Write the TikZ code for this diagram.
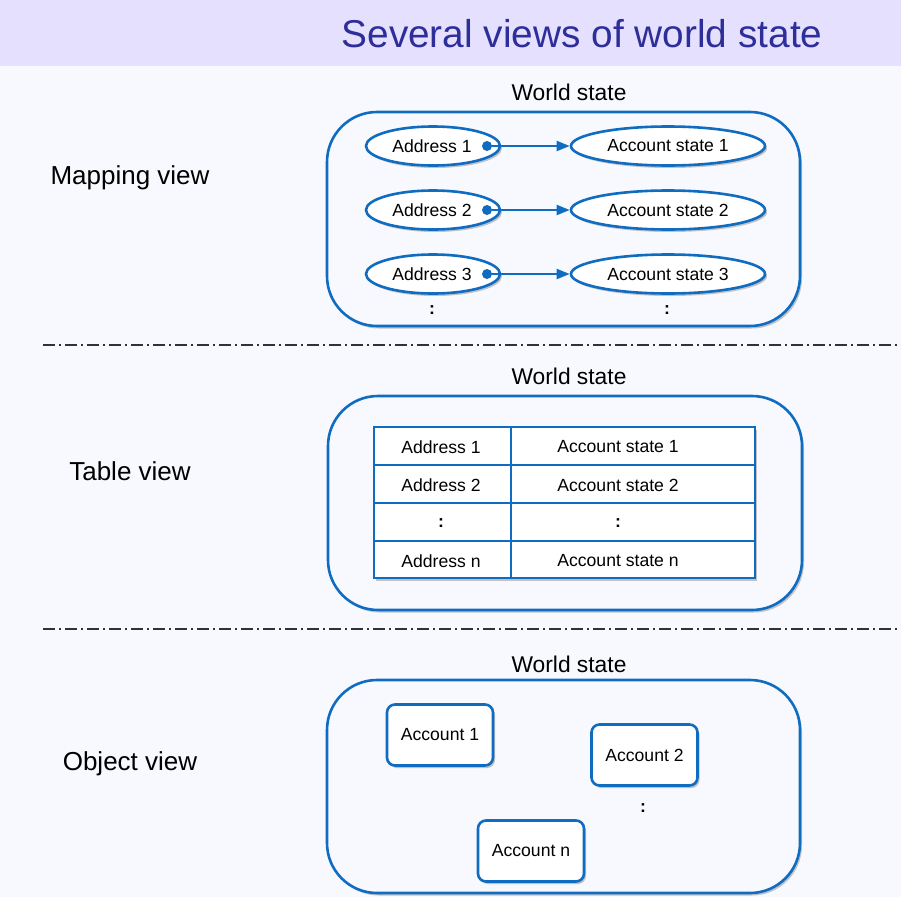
\documentclass[tikz,border=0pt]{standalone}
\usepackage{fontspec}
\setmainfont{Liberation Sans}
\usetikzlibrary{shapes.geometric,shadows,arrows.meta}
\definecolor{bg}{RGB}{248,249,254}
\definecolor{band}{RGB}{228,224,254}
\definecolor{titlec}{RGB}{46,46,154}
\definecolor{lineblue}{RGB}{16,108,192}
\definecolor{sepc}{RGB}{50,50,50}
\tikzset{
  sh/.style={drop shadow={opacity=0.45,shadow xshift=2pt,shadow yshift=-2.5pt,fill=gray}},
  outer/.style={draw=lineblue,line width=2.6pt,rounded corners=50pt,fill=bg},
  addr/.style={ellipse,draw=lineblue,line width=2.6pt,fill=white,minimum width=134pt,minimum height=39pt,inner sep=0pt,font=\fontsize{17.6}{19}\selectfont,sh},
  acct/.style={ellipse,draw=lineblue,line width=2.6pt,fill=white,minimum width=194pt,minimum height=39pt,inner sep=0pt,font=\fontsize{17.6}{19}\selectfont,sh},
  obj/.style={rectangle,rounded corners=8pt,draw=lineblue,line width=2.6pt,fill=white,minimum width=106pt,minimum height=61pt,inner sep=0pt,font=\fontsize{17.6}{19}\selectfont,sh},
  cell/.style={font=\fontsize{17.6}{19}\selectfont,inner sep=0pt},
  lbl/.style={font=\fontsize{22.8}{25}\selectfont,inner sep=0pt},
  view/.style={font=\fontsize{26}{28}\selectfont,inner sep=0pt},
  sep/.style={draw=sepc,line width=1.4pt,dash pattern=on 12pt off 4pt on 2pt off 4pt},
  conn/.style={draw=lineblue,line width=2pt,-{Triangle[length=13pt,width=10pt]}},
  dotc/.style={circle,fill=lineblue,inner sep=0pt,minimum size=10pt},
  tline/.style={draw=lineblue,line width=2.6pt}
}
\begin{document}
\begin{tikzpicture}[x=1pt,y=-1pt]
\useasboundingbox (0,0) rectangle (901,897);
\fill[bg] (0,0) rectangle (901,897);
\fill[band] (0,0) rectangle (901,66);
\node[font=\fontsize{38.8}{42}\selectfont,text=titlec,inner sep=0pt] (title) at (582,34) {Several views of world state};
% separators
\coordinate (s1a) at (43,345); \coordinate (s1b) at (901,345);
\coordinate (s2a) at (43,629); \coordinate (s2b) at (901,629);
\draw[sep] (s1a) -- (s1b);
\draw[sep] (s2a) -- (s2b);
% Mapping view
\node[view] (mv) at (130,178) {Mapping view};
\node[lbl] (ws1) at (569,92) {World state};
\path[outer,sh] (327,112) rectangle (800,326);
\foreach \i/\y in {1/146,2/210,3/274}{
  \node[addr] (a\i) at (433,\y) {\hspace{-2pt}Address \i};
  \node[acct] (s\i) at (668,\y) {Account state \i};
  \node[dotc] (d\i) at (487,\y) {};
  \draw[conn] (d\i) -- (s\i.west);
}
\node[cell] (md1) at (432,310) {\textbf{:}};
\node[cell] (md2) at (667,310) {\textbf{:}};
% Table view
\node[view] (tv) at (130,471) {Table view};
\node[lbl] (ws2) at (569,376) {World state};
\path[outer,sh] (328,396) rectangle (802,610);
\path[tline,fill=white,sh] (374,427) rectangle (755,578);
\draw[tline] (374,465) -- (755,465);
\draw[tline] (374,503) -- (755,503);
\draw[tline] (374,541) -- (755,541);
\draw[tline] (511,427) -- (511,578);
\node[cell] (t11) at (441,447) {Address 1};
\node[cell] (t12) at (618,447) {Account state 1};
\node[cell] (t21) at (441,485) {Address 2};
\node[cell] (t22) at (618,485) {Account state 2};
\node[cell] (t31) at (441,523) {\textbf{:}};
\node[cell] (t32) at (618,523) {\textbf{:}};
\node[cell] (t41) at (441,561) {Address n};
\node[cell] (t42) at (618,561) {Account state n};
% Object view
\node[view] (ov) at (130,764) {Object view};
\node[lbl] (ws3) at (569,664) {World state};
\path[outer,sh] (327,680) rectangle (800,893);
\node[obj] (o1) at (440,735) {Account 1};
\node[obj] (o2) at (644.5,755) {Account 2};
\node[obj] (on) at (531,851) {Account n};
\node[cell] (od) at (643,808) {\textbf{:}};
\end{tikzpicture}
\end{document}
